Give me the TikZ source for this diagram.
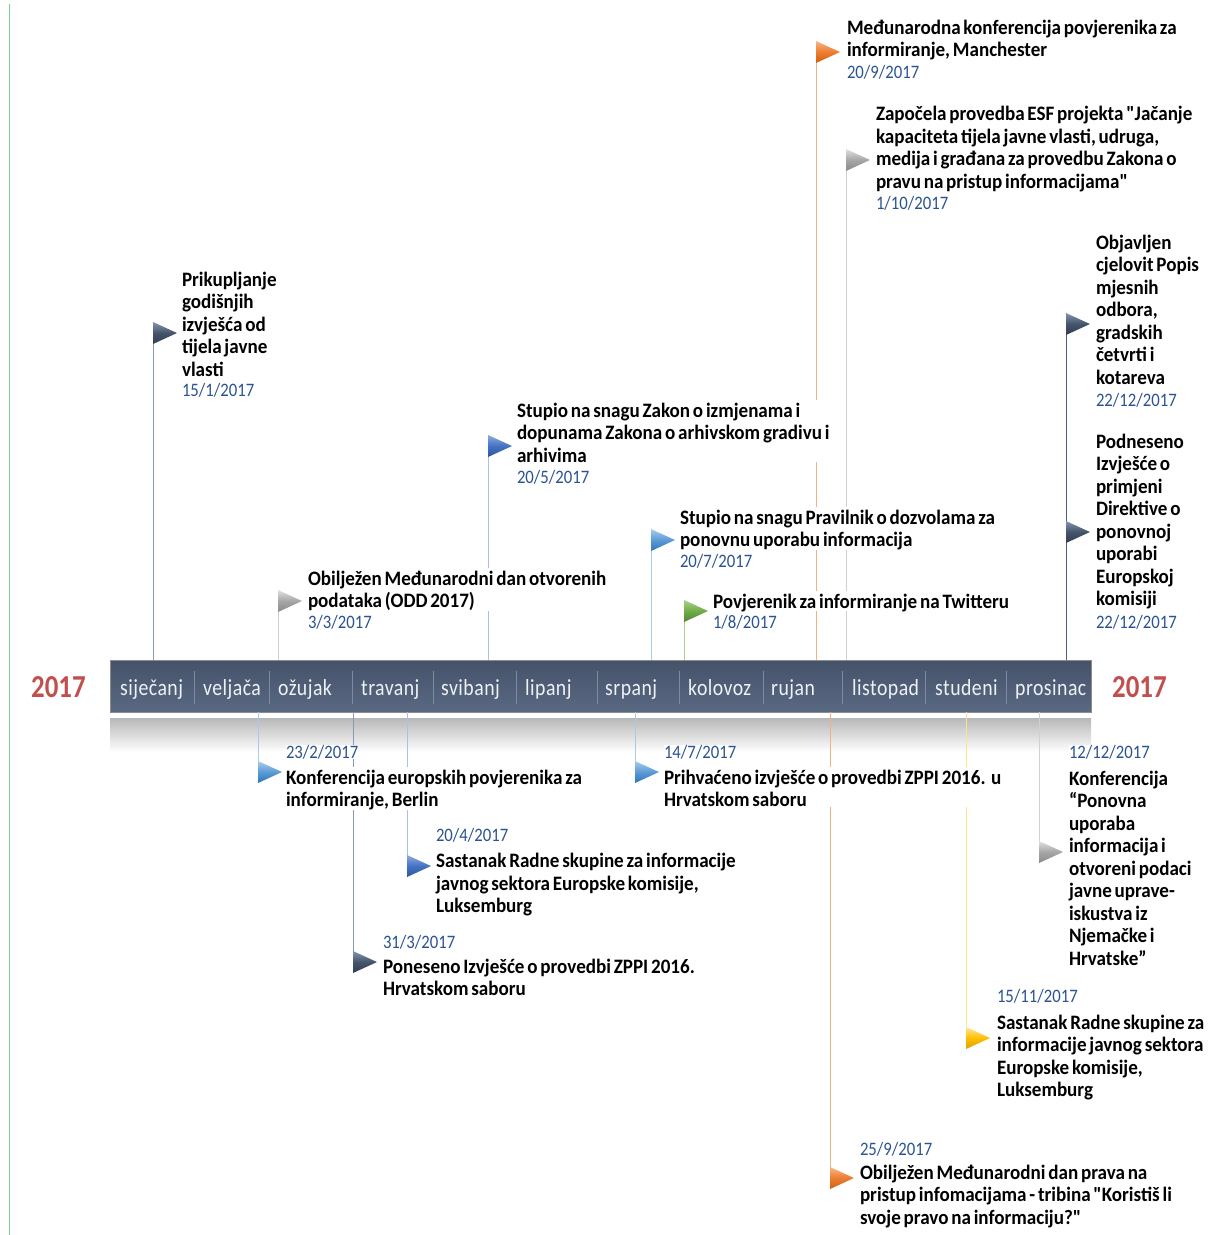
\documentclass[tikz,border=0pt]{standalone}
\usepackage{fontspec}
\setmainfont{Carlito}
\newfontfamily\calT[FakeStretch=0.93,WordSpace=0.65,Ligatures=TeXOff]{Carlito}
\newfontfamily\calD[FakeStretch=0.88]{Carlito}
\newfontfamily\calM[FakeStretch=0.86,LetterSpace=2]{Carlito}
\newfontfamily\calY[FakeStretch=0.84]{Carlito}
\newcommand\titlefont{\calT\bfseries\fontsize{20.5}{22.5}\selectfont}
\newcommand\datefont{\calD\fontsize{19}{22.5}\selectfont}
\newcommand\monthfont{\calM\fontsize{23}{26}\selectfont}
\newcommand\yearfont{\calY\bfseries\fontsize{32}{36}\selectfont}
\newcommand\fs{\rule{0pt}{17pt}}
\usetikzlibrary{calc}

\definecolor{datec}{HTML}{2B5391}
\definecolor{yearc}{HTML}{C0504D}
\definecolor{monthc}{HTML}{EEF1F5}
\definecolor{sepc}{HTML}{7D8AA0}
\definecolor{bartop}{HTML}{44526A}
\definecolor{barbot}{HTML}{5A6982}
\definecolor{slate}{HTML}{44546A}\definecolor{slateL}{HTML}{8595B0}\definecolor{slateD}{HTML}{323F52}
\definecolor{gray}{HTML}{A6A6A6}\definecolor{grayL}{HTML}{E0E0E0}\definecolor{grayD}{HTML}{8A8A8A}
\definecolor{blue}{HTML}{4472C4}\definecolor{blueL}{HTML}{8FAADC}\definecolor{blueD}{HTML}{2F5597}
\definecolor{lblue}{HTML}{5B9BD5}\definecolor{lblueL}{HTML}{A8CDEE}\definecolor{lblueD}{HTML}{2E75B6}
\definecolor{green}{HTML}{70AD47}\definecolor{greenL}{HTML}{A9D18E}\definecolor{greenD}{HTML}{548235}
\definecolor{orange}{HTML}{ED7D31}\definecolor{orangeL}{HTML}{F8B585}\definecolor{orangeD}{HTML}{D0600F}
\definecolor{yellow}{HTML}{FFC000}\definecolor{yellowL}{HTML}{FFE699}\definecolor{yellowD}{HTML}{D9A300}
\definecolor{pslate}{HTML}{8A9AB5}\definecolor{pslateD}{HTML}{4E5E78}
\definecolor{pgray}{HTML}{D0D0D0}\definecolor{pblue}{HTML}{A9C1E8}\definecolor{plblue}{HTML}{A8CBEA}
\definecolor{pgreen}{HTML}{A9D18E}\definecolor{porange}{HTML}{F6B183}\definecolor{pyellow}{HTML}{FFE28A}

\tikzset{
  title/.style={anchor=north west, inner sep=0pt, outer sep=0pt, fill=white, align=left, font=\titlefont, text=black},
  date/.style={anchor=base west, inner sep=0pt, outer sep=0pt, fill=white, font=\datefont, text=datec},
  pole/.style={line width=1pt},
  month/.style={anchor=base west, inner sep=0pt, font=\monthfont, text=monthc},
  year/.style={anchor=base west, inner sep=0pt, font=\yearfont, text=yearc},
  sep/.style={draw=sepc, line width=1pt},
}
\newcommand\flagat[2]{\shade[shift={(#1)}, top color=#2L, bottom color=#2D, middle color=#2] (0,-11) -- (24,0) -- (0,11) -- cycle;}

\begin{document}
\begin{tikzpicture}[x=1pt,y=-1pt]
\useasboundingbox (0,0) rectangle (1212,1235);
\fill[white] (0,0) rectangle (1212,1235);
\draw[color={rgb,255:red,245;green,240;blue,100}, line width=0.8pt] (9,4) -- (9,1235);

% reflection and bar
\node[minimum width=981pt, minimum height=34pt, inner sep=0pt, top color=black!28, bottom color=white] (refl) at (600.5,735) {};
\node[minimum width=981pt, minimum height=52pt, inner sep=0pt, top color=bartop, bottom color=barbot, draw=black!45, line width=0.5pt] (bar) at (600.5,686) {};
\foreach \sx in {194,269,352,433,516,597,679,763,842,925,1006} \draw[sep] (\sx,671) -- (\sx,704);

% months
\node[month] (m1) at (120,695) {siječanj};
\node[month] (m2) at (203,695) {veljača};
\node[month] (m3) at (278,695) {ožujak};
\node[month] (m4) at (361,695) {travanj};
\node[month] (m5) at (441,695) {svibanj};
\node[month] (m6) at (525,695) {lipanj};
\node[month] (m7) at (605,695) {srpanj};
\node[month] (m8) at (688,695) {kolovoz};
\node[month] (m9) at (771,695) {rujan};
\node[month] (m10) at (852,695) {listopad};
\node[month] (m11) at (935,695) {studeni};
\node[month] (m12) at (1015,695) {prosinac};
\node[year] (y1) at (31,697) {2017};
\node[year] (y2) at (1112,697) {2017};

% flag anchor points (pole x, flag centre y)
\coordinate (f1) at (153,333);
\coordinate (f2) at (278,601);
\coordinate (f3) at (488,446);
\coordinate (f4) at (651,540);
\coordinate (f5) at (684,611);
\coordinate (f6) at (816,52);
\coordinate (f7) at (846,160);
\coordinate (f8) at (1066,324);
\coordinate (f9) at (1066,532);
\coordinate (f10) at (258,772);
\coordinate (f11) at (407,866);
\coordinate (f12) at (353,962);
\coordinate (f13) at (635,772);
\coordinate (f14) at (830,1178);
\coordinate (f15) at (966,1038);
\coordinate (f16) at (1039,852);

% poles
\draw[pole, pslate] ($(f1)+(0,-11)$) -- (f1 |- bar.north);
\draw[pole, pgray] ($(f2)+(0,-11)$) -- (f2 |- bar.north);
\draw[pole, pblue] ($(f3)+(0,-11)$) -- (f3 |- bar.north);
\draw[pole, plblue] ($(f4)+(0,-11)$) -- (f4 |- bar.north);
\draw[pole, pgreen] ($(f5)+(0,-11)$) -- (f5 |- bar.north);
\draw[pole, porange] ($(f6)+(0,-11)$) -- (f6 |- bar.north);
\draw[pole, pgray] ($(f7)+(0,-11)$) -- (f7 |- bar.north);
\draw[pole, pslateD] ($(f8)+(0,-11)$) -- (f9) -- (f9 |- bar.north);
\draw[pole, plblue] (bar.south -| f10) -- ($(f10)+(0,11)$);
\draw[pole, pblue] (bar.south -| f11) -- ($(f11)+(0,11)$);
\draw[pole, pslate] (bar.south -| f12) -- ($(f12)+(0,11)$);
\draw[pole, plblue] (bar.south -| f13) -- ($(f13)+(0,11)$);
\draw[pole, porange] (bar.south -| f14) -- ($(f14)+(0,11)$);
\draw[pole, pyellow] (bar.south -| f15) -- ($(f15)+(0,11)$);
\draw[pole, pgray] (bar.south -| f16) -- ($(f16)+(0,11)$);

% texts above the bar
\node[title] (t1) at (182,269) {\fs Prikupljanje\\godišnjih\\izvješća od\\tijela javne\\vlasti};
\node[date] (d1) at (182,396.5) {15/1/2017};
\node[title] (t2) at (308,568) {\fs Obilježen Međunarodni dan otvorenih\\podataka (ODD 2017)};
\node[date] (d2) at (308,628.5) {3/3/2017};
\node[title] (t3) at (517,400) {\fs Stupio na snagu Zakon o izmjenama i\\dopunama Zakona o arhivskom gradivu i\\arhivima};
\node[date] (d3) at (517,483.5) {20/5/2017};
\node[title] (t4) at (680,507) {\fs Stupio na snagu Pravilnik o dozvolama za\\ponovnu uporabu informacija};
\node[date] (d4) at (680,567.5) {20/7/2017};
\node[title] (t5) at (713,591) {\fs Povjerenik za informiranje na Twitteru};
\node[date] (d5) at (713,628.5) {1/8/2017};
\node[title] (t6) at (847,17) {\fs Međunarodna konferencija povjerenika za\\informiranje, Manchester};
\node[date] (d6) at (847,78) {20/9/2017};
\node[title] (t7) at (876,103.5) {\fs Započela provedba ESF projekta "Jačanje\\kapaciteta tijela javne vlasti, udruga,\\medija i građana za provedbu Zakona o\\pravu na pristup informacijama"};
\node[date] (d7) at (876,209) {1/10/2017};
\node[title] (t8) at (1096,232) {\fs Objavljen\\cjelovit Popis\\mjesnih\\odbora,\\gradskih\\četvrti i\\kotareva};
\node[date] (d8) at (1096,406) {22/12/2017};
\node[title] (t9) at (1096,431) {\fs Podneseno\\Izvješće o\\primjeni\\Direktive o\\ponovnoj\\uporabi\\Europskoj\\komisiji};
\node[date] (d9) at (1096,628) {22/12/2017};

% texts below the bar
\node[date] (d10) at (286,758.5) {23/2/2017};
\node[title] (t10) at (286,767) {\fs Konferencija europskih povjerenika za\\informiranje, Berlin};
\node[date] (d11) at (436,841.5) {20/4/2017};
\node[title] (t11) at (436,850.5) {\fs Sastanak Radne skupine za informacije\\javnog sektora Europske komisije,\\Luksemburg};
\node[date] (d12) at (383,948) {31/3/2017};
\node[title] (t12) at (383,956) {\fs Poneseno Izvješće o provedbi ZPPI 2016.\\Hrvatskom saboru};
\node[date] (d13) at (664,758.5) {14/7/2017};
\node[title] (t13) at (664,767) {\fs Prihvaćeno izvješće o provedbi ZPPI 2016.\ \ u\\Hrvatskom saboru};
\node[date] (d14) at (860,1155) {25/9/2017};
\node[title] (t14) at (860,1162) {\fs Obilježen Međunarodni dan prava na\\pristup infomacijama - tribina "Koristiš li\\svoje pravo na informaciju?"};
\node[date] (d15) at (997,1002.5) {15/11/2017};
\node[title] (t15) at (997,1012) {\fs Sastanak Radne skupine za\\informacije javnog sektora\\Europske komisije,\\Luksemburg};
\node[date] (d16) at (1069,758.5) {12/12/2017};
\node[title] (t16) at (1069,768) {\fs Konferencija\\“Ponovna\\uporaba\\informacija i\\otvoreni podaci\\javne uprave-\\iskustva iz\\Njemačke i\\Hrvatske”};

% flags
\flagat{f1}{slate}
\flagat{f2}{gray}
\flagat{f3}{blue}
\flagat{f4}{lblue}
\flagat{f5}{green}
\flagat{f6}{orange}
\flagat{f7}{gray}
\flagat{f8}{slate}
\flagat{f9}{slate}
\flagat{f10}{lblue}
\flagat{f11}{blue}
\flagat{f12}{slate}
\flagat{f13}{lblue}
\flagat{f14}{orange}
\flagat{f15}{yellow}
\flagat{f16}{gray}
\end{tikzpicture}
\end{document}
